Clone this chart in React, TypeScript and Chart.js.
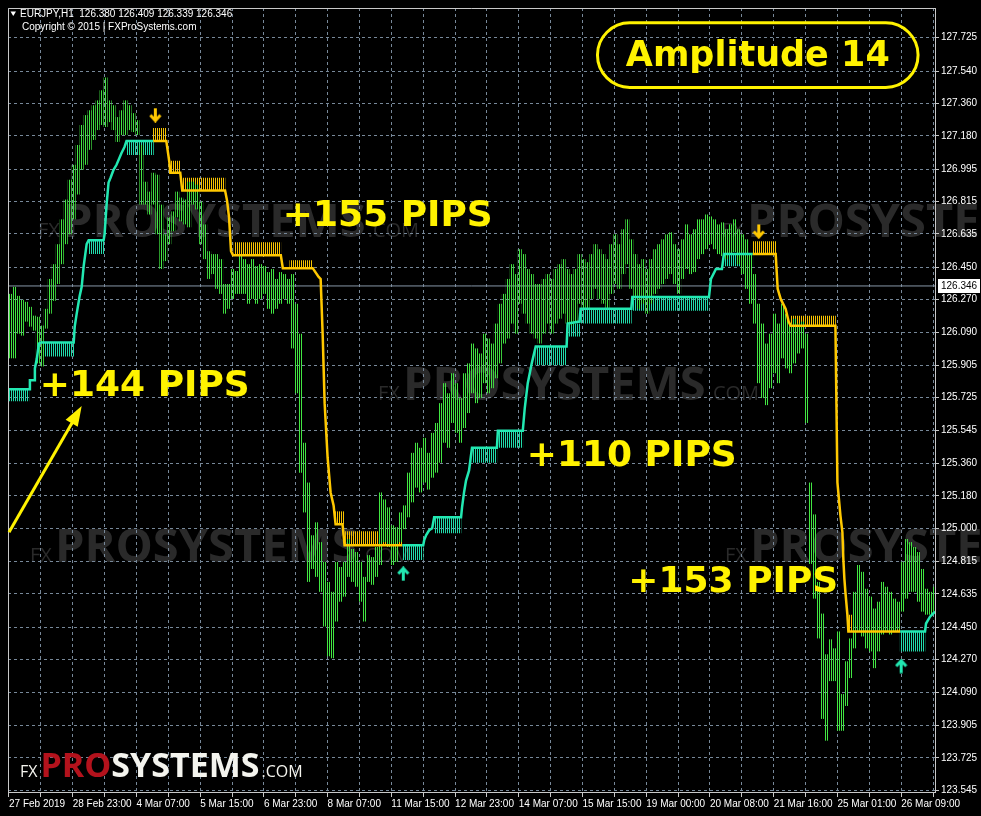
import { useEffect, useRef } from 'react';
import { Chart, registerables } from 'chart.js';

Chart.register(...registerables);

// ---------------- data ----------------
const symbolName = 'EURJPY,H1';
const headerOhlc = [126.38, 126.409, 126.339, 126.346];
const copyrightText = 'Copyright © 2015 | FXProSystems.com';
const currentPrice = 126.346;

const timeLabels = [
  '27 Feb 2019', '28 Feb 23:00', '4 Mar 07:00', '5 Mar 15:00', '6 Mar 23:00',
  '8 Mar 07:00', '11 Mar 15:00', '12 Mar 23:00', '14 Mar 07:00', '15 Mar 15:00',
  '19 Mar 00:00', '20 Mar 08:00', '21 Mar 16:00', '25 Mar 01:00', '26 Mar 09:00',
];
const barsPerLabel = 32;
const barsPerGrid = 16;
const lastBar = 465;

const priceTicks = [
  127.725, 127.54, 127.36, 127.18, 126.995, 126.815, 126.635, 126.45, 126.27, 126.09,
  125.905, 125.725, 125.545, 125.36, 125.18, 125.0, 124.815, 124.635, 124.45, 124.27,
  124.09, 123.905, 123.725, 123.545,
];
const priceMin = 123.535;
const priceMax = 127.89;

// price bars, one entry per pair of H1 bars
const barHigh = [
  126.302, 126.341, 126.291, 126.269, 126.258, 126.23, 126.181, 126.175, 126.126, 126.219,
  126.385, 126.467, 126.578, 126.716, 126.826, 126.936, 127.019, 127.129, 127.24, 127.295,
  127.322, 127.35, 127.377, 127.433, 127.504, 127.377, 127.35, 127.284, 127.322, 127.377,
  127.35, 127.306, 127.267, 127.129, 126.925, 126.87, 126.975, 126.964, 126.798, 126.633,
  126.727, 126.76, 126.87, 126.837, 126.826, 126.925, 126.925, 126.909, 126.815, 126.688,
  126.539, 126.523, 126.523, 126.495, 126.357, 126.357, 126.44, 126.429, 126.523, 126.495,
  126.467, 126.495, 126.456, 126.467, 126.456, 126.423, 126.44, 126.385, 126.423, 126.412,
  126.385, 126.412, 126.247, 126.081, 125.475, 125.254, 124.961, 125.033, 124.923, 124.813,
  124.702, 124.647, 124.813, 124.785, 124.813, 124.94, 124.885, 124.868, 124.813, 124.73,
  124.851, 124.84, 124.896, 125.199, 125.16, 125.116, 125.017, 125.006, 125.088, 125.127,
  125.309, 125.419, 125.475, 125.447, 125.502, 125.419, 125.53, 125.585, 125.695, 125.806,
  125.75, 125.861, 125.806, 125.723, 125.861, 125.916, 126.026, 125.999, 125.971, 126.081,
  126.054, 126.026, 126.137, 126.247, 126.302, 126.385, 126.467, 126.412, 126.55, 126.523,
  126.44, 126.412, 126.357, 126.357, 126.385, 126.412, 126.385, 126.44, 126.467, 126.495,
  126.44, 126.412, 126.44, 126.523, 126.495, 126.478, 126.523, 126.578, 126.55, 126.523,
  126.495, 126.578, 126.633, 126.578, 126.661, 126.716, 126.605, 126.523, 126.467, 126.495,
  126.44, 126.495, 126.55, 126.578, 126.605, 126.633, 126.644, 126.578, 126.55, 126.605,
  126.688, 126.633, 126.661, 126.716, 126.716, 126.743, 126.732, 126.716, 126.688, 126.699,
  126.661, 126.688, 126.716, 126.661, 126.633, 126.605, 126.523, 126.412, 126.247, 126.137,
  126.026, 126.081, 126.192, 126.137, 126.247, 126.192, 126.137, 126.164, 126.137, 126.148,
  126.081, 125.254, 125.077, 124.702, 124.526, 124.3, 124.383, 124.333, 124.427, 124.079,
  124.261, 124.388, 124.647, 124.796, 124.758, 124.664, 124.62, 124.554, 124.592, 124.702,
  124.675, 124.647, 124.609, 124.592, 124.813, 124.94, 124.923, 124.896, 124.868, 124.774,
  124.664, 124.647, 124.675,
];
const barLow = [
  125.944, 125.944, 126.081, 126.07, 126.148, 126.12, 126.098, 125.916, 125.899, 126.109,
  126.192, 126.263, 126.357, 126.467, 126.578, 126.633, 126.716, 126.854, 126.991, 127.019,
  127.102, 127.157, 127.212, 127.24, 127.229, 127.256, 127.212, 127.146, 127.184, 127.184,
  127.212, 127.201, 127.184, 126.798, 126.798, 126.743, 126.798, 126.633, 126.44, 126.484,
  126.578, 126.65, 126.727, 126.705, 126.688, 126.672, 126.798, 126.771, 126.578, 126.495,
  126.385, 126.412, 126.33, 126.302, 126.192, 126.219, 126.274, 126.302, 126.302, 126.302,
  126.247, 126.274, 126.247, 126.274, 126.302, 126.219, 126.192, 126.219, 126.247, 126.274,
  126.247, 125.999, 125.75, 125.309, 125.088, 124.702, 124.774, 124.73, 124.647, 124.454,
  124.289, 124.278, 124.482, 124.592, 124.62, 124.73, 124.702, 124.675, 124.592, 124.482,
  124.702, 124.686, 124.73, 124.796, 124.923, 124.896, 124.796, 124.813, 124.923, 124.995,
  125.061, 125.144, 125.226, 125.199, 125.254, 125.215, 125.281, 125.309, 125.364, 125.475,
  125.447, 125.585, 125.53, 125.475, 125.557, 125.64, 125.75, 125.695, 125.723, 125.806,
  125.75, 125.778, 125.833, 125.916, 126.026, 126.054, 126.137, 126.081, 126.247, 126.192,
  126.137, 126.081, 126.054, 126.026, 126.081, 126.137, 126.081, 126.137, 126.164, 126.192,
  126.137, 126.126, 126.148, 126.247, 126.219, 126.219, 126.274, 126.33, 126.274, 126.247,
  126.219, 126.302, 126.357, 126.33, 126.412, 126.467, 126.33, 126.274, 126.219, 126.247,
  126.192, 126.247, 126.302, 126.33, 126.357, 126.385, 126.412, 126.357, 126.302, 126.385,
  126.44, 126.412, 126.423, 126.495, 126.523, 126.55, 126.578, 126.55, 126.523, 126.512,
  126.495, 126.523, 126.534, 126.467, 126.412, 126.33, 126.247, 126.137, 125.806, 125.723,
  125.684, 125.778, 125.861, 125.806, 125.944, 125.888, 125.861, 125.916, 125.971, 125.999,
  125.585, 124.802, 124.609, 124.388, 123.941, 123.82, 124.151, 124.151, 123.875, 123.875,
  124.013, 124.168, 124.333, 124.427, 124.399, 124.333, 124.316, 124.223, 124.316, 124.41,
  124.427, 124.41, 124.427, 124.438, 124.537, 124.609, 124.647, 124.647, 124.592, 124.537,
  124.52, 124.52, 124.537,
];

// Amplitude indicator line (bar index, price)
const trendX = [
  -0.5, 10.5, 10.5, 13, 13, 14, 15, 16, 32.5, 33, 34, 35.5, 36.5, 37.5, 39, 40, 47.5, 48, 49, 50,
  51, 52.5, 54, 56.5, 58, 59, 72.5, 79, 80, 80.5, 81, 86, 87, 108.5, 109.5, 110.5, 111.5, 112.5,
  136.5, 137.5, 152.5, 155.5, 156.5, 157.5, 158.5, 160, 161.5, 163, 164, 167.5, 168.5, 197.5, 208,
  208.5, 209.5, 211, 212.5, 213.5, 227, 227.5, 228.5, 229.5, 231, 232.5, 245, 245.5, 258, 259,
  260.5, 262.5, 264.5, 280, 280.5, 286.5, 287, 312.5, 313, 351.5, 352.5, 355, 358, 359, 373.5, 385,
  386, 387.5, 390, 391.5, 392.5, 415, 416, 417.5, 418.5, 419, 419.5, 420, 421, 421.5, 447.5, 460,
  460.5, 462.5, 465,
];
const trendY = [
  125.772, 125.772, 125.822, 125.822, 125.888, 125.944, 126.026, 126.032, 126.032, 126.12,
  126.192, 126.291, 126.341, 126.456, 126.578, 126.6, 126.6, 126.633, 126.798, 126.92, 126.947,
  126.991, 127.019, 127.085, 127.118, 127.151, 127.151, 127.151, 127.074, 127.036, 126.975,
  126.975, 126.876, 126.876, 126.82, 126.727, 126.539, 126.517, 126.517, 126.445, 126.445,
  126.396, 126.385, 126.081, 125.695, 125.392, 125.199, 125.127, 125.022, 125.022, 124.906,
  124.906, 124.906, 124.934, 124.962, 124.989, 125.0, 125.061, 125.061, 125.116, 125.199,
  125.265, 125.32, 125.447, 125.447, 125.541, 125.541, 125.668, 125.806, 125.916, 126.01,
  126.01, 126.137, 126.148, 126.219, 126.219, 126.285, 126.285, 126.385, 126.44, 126.44,
  126.523, 126.523, 126.523, 126.33, 126.274, 126.219, 126.148, 126.125, 126.125, 125.254,
  125.072, 124.978, 124.824, 124.719, 124.647, 124.52, 124.427, 124.427, 124.427, 124.471,
  124.509, 124.537,
];
// bar index where the trend flips (starts up)
const trendFlips = [72.5, 197.5, 373.5, 447.5];

// hatch blocks: [first bar, last bar, line price, far edge price]
const upHatch = [
  [0, 10, 125.772, 125.706], [16.5, 32.5, 126.032, 125.954], [40, 47.5, 126.6, 126.523],
  [59, 72.5, 127.151, 127.074], [197.5, 208, 124.906, 124.824], [214, 227, 125.061, 124.973],
  [232.5, 245, 125.447, 125.364], [245.5, 258, 125.541, 125.447], [264.5, 280, 126.01, 125.905],
  [280.5, 286.5, 126.137, 126.065], [287, 312.5, 126.219, 126.137], [313, 351.5, 126.285, 126.208],
  [359, 373.5, 126.523, 126.456], [447.5, 460, 124.427, 124.316],
];
const downHatch = [
  [72.5, 79, 127.151, 127.223], [81, 86, 126.975, 127.041], [87.5, 108.5, 126.876, 126.947],
  [113, 136.5, 126.517, 126.589], [141, 152.5, 126.445, 126.489], [164, 168, 125.022, 125.094],
  [169, 197.5, 124.906, 124.984], [373.5, 385, 126.523, 126.594], [392.5, 415, 126.125, 126.181],
  [421.5, 447.5, 124.427, 124.52],
];

const sellArrowX = [73.5, 376.5];
const sellArrowY = [127.295, 126.649];
const buyArrowX = [198, 448];
const buyArrowY = [124.747, 124.234];

const pipsLabels = ['+144 PIPS', '+155 PIPS', '+110 PIPS', '+153 PIPS'];
const pipsX = [15.5, 137.5, 260, 311];
const pipsY = [125.734, 126.677, 125.348, 124.647];
const pointerFrom = [0, 124.978];
const pointerTo = [36.5, 125.679];

const amplitudeText = 'Amplitude 14';
const amplitudeBox = [295.5, 456.5, 127.808, 127.449];

// ---------------- styles ----------------
const BAR_COLOR = '#42e642';
const UP_COLOR = '#22e8b2';
const DOWN_COLOR = '#ffc800';
const UP_HATCH = '#20dcaa';
const DOWN_HATCH = '#f8c400';
const TEXT_YELLOW = '#fff200';
const GRID = '#778899';
const FRAME = '#c8c8c8';
const WATERMARK = '#2a2a2a';

function hasFont(name: string) {
  const c = document.createElement('canvas').getContext('2d')!;
  const s = '28 Feb 23:00 127.725 Wj';
  c.font = '20px monospace';
  const a = c.measureText(s).width;
  c.font = `20px '${name}', monospace`;
  const b = c.measureText(s).width;
  return Math.abs(a - b) > 0.5;
}

function hatchPattern(color: string) {
  const c = document.createElement('canvas');
  c.width = 2;
  c.height = 1;
  const g = c.getContext('2d')!;
  g.fillStyle = color;
  g.fillRect(1, 0, 1, 1);
  return g.createPattern(c, 'repeat')!;
}

function arrowImage(color: string, up: boolean) {
  const c = document.createElement('canvas');
  c.width = 13;
  c.height = 15;
  const g = c.getContext('2d')!;
  g.translate(6.5, 7.5);
  if (up) g.scale(1, -1);
  g.strokeStyle = color;
  g.lineWidth = 3;
  g.lineJoin = 'miter';
  g.beginPath();
  g.moveTo(0, -7);
  g.lineTo(0, 5);
  g.stroke();
  g.beginPath();
  g.moveTo(-5, 0);
  g.lineTo(0, 5.5);
  g.lineTo(5, 0);
  g.stroke();
  return c;
}

function drawBrand(ctx: CanvasRenderingContext2D, x: number, base: number, fx: number, big: number, com: number, fxCol: string, proCol: string, sysCol: string) {
  ctx.textAlign = 'left';
  ctx.textBaseline = 'alphabetic';
  ctx.font = `${fx}px 'Open Sans'`;
  ctx.fillStyle = fxCol;
  ctx.fillText('FX', x, base);
  let cx = x + ctx.measureText('FX').width + 3;
  ctx.font = `bold ${big}px 'Open Sans'`;
  ctx.fillStyle = proCol;
  ctx.fillText('PRO', cx, base);
  cx += ctx.measureText('PRO').width;
  ctx.fillStyle = sysCol;
  ctx.fillText('SYSTEMS', cx, base);
  cx += ctx.measureText('SYSTEMS').width + 2;
  ctx.font = `${com}px 'Open Sans'`;
  ctx.fillStyle = fxCol;
  ctx.fillText('.COM', cx, base);
}

export default function App() {
  const ref = useRef<HTMLCanvasElement>(null);

  useEffect(() => {
    document.body.style.margin = '0';
    document.body.style.background = '#000';
    const canvas = ref.current!;
    const narrow = hasFont('Liberation Sans Narrow');
    const axisFont = narrow
      ? { family: "'Liberation Sans Narrow', 'Liberation Sans', sans-serif", size: 11 }
      : { family: "'Liberation Sans', sans-serif", size: 10 };
    const axisFontStr = `${axisFont.size}px ${axisFont.family}`;

    const trendColor = (x: number) => {
      let n = 0;
      for (const f of trendFlips) if (x >= f) n++;
      return n % 2 === 0 ? UP_COLOR : DOWN_COLOR;
    };

    const upPat = hatchPattern(UP_HATCH);
    const downPat = hatchPattern(DOWN_HATCH);
    const hatchSet = (b: number[], pat: CanvasPattern) => ({
      type: 'line',
      data: [{ x: b[0] - 0.25, y: b[3] }, { x: b[1] + 0.25, y: b[3] }],
      borderWidth: 0,
      borderColor: 'rgba(0,0,0,0)',
      pointRadius: 0,
      fill: { value: b[2] },
      backgroundColor: pat,
      order: 3,
    });

    const datasets: any[] = [
      {
        type: 'line',
        data: buyArrowX.map((x, i) => ({ x, y: buyArrowY[i] })),
        showLine: false,
        pointStyle: arrowImage(UP_COLOR, true),
        pointRadius: 7,
        order: 0,
      },
      {
        type: 'line',
        data: sellArrowX.map((x, i) => ({ x, y: sellArrowY[i] })),
        showLine: false,
        pointStyle: arrowImage(DOWN_COLOR, false),
        pointRadius: 7,
        order: 0,
      },
      {
        type: 'line',
        data: trendX.map((x, i) => ({ x, y: trendY[i] })),
        borderWidth: 2.5,
        borderColor: UP_COLOR,
        pointRadius: 0,
        fill: false,
        tension: 0,
        segment: { borderColor: (c: any) => trendColor(trendX[c.p0DataIndex]) },
        order: 1,
      },
      {
        type: 'bar',
        data: barHigh.map((h, i) => ({ x: i * 2 + 0.5, y: [barLow[i], h] })),
        backgroundColor: hatchPattern(BAR_COLOR),
        barThickness: 4,
        borderWidth: 0,
        inflateAmount: 0,
        order: 2,
      },
      ...upHatch.map((b) => hatchSet(b, upPat)),
      ...downHatch.map((b) => hatchSet(b, downPat)),
      {
        type: 'line',
        data: [{ x: -0.5, y: currentPrice }, { x: lastBar, y: currentPrice }],
        borderColor: '#8797a8',
        borderWidth: 1,
        pointRadius: 0,
        order: 4,
      },
    ];

    const overlay = {
      id: 'overlay',
      beforeDraw(chart: any) {
        const ctx = chart.ctx as CanvasRenderingContext2D;
        ctx.save();
        const spots = [[38, 237], [722, 237], [378, 400], [30, 562], [725, 562]];
        for (const [x, y] of spots) drawBrand(ctx, x, y, 20, 47, 20, WATERMARK, WATERMARK, WATERMARK);
        ctx.restore();
      },
      afterDatasetsDraw(chart: any) {
        const ctx = chart.ctx as CanvasRenderingContext2D;
        const a = chart.chartArea;
        const xs = chart.scales.x;
        const ys = chart.scales.y;
        ctx.save();
        // frame (left/top)
        ctx.strokeStyle = FRAME;
        ctx.lineWidth = 1;
        ctx.beginPath();
        ctx.moveTo(a.left + 0.5, a.bottom);
        ctx.lineTo(a.left + 0.5, a.top + 0.5);
        ctx.lineTo(a.right, a.top + 0.5);
        ctx.stroke();

        // pips labels
        ctx.font = "bold 36px 'DejaVu Sans'";
        ctx.fillStyle = TEXT_YELLOW;
        ctx.textAlign = 'left';
        ctx.textBaseline = 'alphabetic';
        pipsLabels.forEach((t, i) => ctx.fillText(t, xs.getPixelForValue(pipsX[i]), ys.getPixelForValue(pipsY[i])));

        // pointer arrow
        const x0 = xs.getPixelForValue(pointerFrom[0]);
        const y0 = ys.getPixelForValue(pointerFrom[1]);
        const x1 = xs.getPixelForValue(pointerTo[0]);
        const y1 = ys.getPixelForValue(pointerTo[1]);
        const ang = Math.atan2(y1 - y0, x1 - x0);
        const hl = 20;
        const hw = 7;
        ctx.strokeStyle = TEXT_YELLOW;
        ctx.lineWidth = 3;
        ctx.beginPath();
        ctx.moveTo(x0, y0);
        ctx.lineTo(x1 - Math.cos(ang) * (hl - 2), y1 - Math.sin(ang) * (hl - 2));
        ctx.stroke();
        ctx.beginPath();
        ctx.moveTo(x1, y1);
        ctx.lineTo(x1 - Math.cos(ang) * hl - Math.sin(ang) * hw, y1 - Math.sin(ang) * hl + Math.cos(ang) * hw);
        ctx.lineTo(x1 - Math.cos(ang) * hl + Math.sin(ang) * hw, y1 - Math.sin(ang) * hl - Math.cos(ang) * hw);
        ctx.closePath();
        ctx.fillStyle = TEXT_YELLOW;
        ctx.fill();

        // amplitude box
        const bx0 = xs.getPixelForValue(amplitudeBox[0]);
        const bx1 = xs.getPixelForValue(amplitudeBox[1]);
        const by0 = ys.getPixelForValue(amplitudeBox[2]);
        const by1 = ys.getPixelForValue(amplitudeBox[3]);
        ctx.strokeStyle = TEXT_YELLOW;
        ctx.lineWidth = 3;
        ctx.beginPath();
        (ctx as any).roundRect(bx0, by0, bx1 - bx0, by1 - by0, (by1 - by0) / 2);
        ctx.stroke();
        ctx.font = "bold 35px 'DejaVu Sans'";
        ctx.textAlign = 'center';
        ctx.fillStyle = TEXT_YELLOW;
        ctx.fillText(amplitudeText, (bx0 + bx1) / 2, (by0 + by1) / 2 + 11);

        // current price tag
        const py = Math.round(ys.getPixelForValue(currentPrice));
        ctx.fillStyle = '#ffffff';
        ctx.fillRect(a.right + 3, py - 7, 42, 14);
        ctx.fillStyle = '#000000';
        ctx.font = axisFontStr;
        ctx.textAlign = 'left';
        ctx.textBaseline = 'middle';
        ctx.fillText(currentPrice.toFixed(3), a.right + 6, py + 0.5);

        // header
        ctx.fillStyle = '#ffffff';
        ctx.beginPath();
        ctx.moveTo(10.5, 11.5);
        ctx.lineTo(16, 11.5);
        ctx.lineTo(13.25, 16);
        ctx.closePath();
        ctx.fill();
        ctx.textBaseline = 'alphabetic';
        ctx.fillText(`${symbolName}  ${headerOhlc.map((v) => v.toFixed(3)).join(' ')}`, 20, 17);
        ctx.fillText(copyrightText, 22, 30);

        // logo
        drawBrand(ctx, 20, 777, 16, 34, 16, '#f4f4ee', '#b3121c', '#f4f4ee');
        ctx.restore();
      },
    };

    const chart = new Chart(canvas, {
      type: 'bar',
      data: { datasets },
      options: {
        responsive: false,
        animation: false,
        events: [],
        layout: { padding: { left: 4, top: 2, right: 0, bottom: 0 } },
        plugins: { legend: { display: false }, tooltip: { enabled: false } },
        scales: {
          x: {
            type: 'linear',
            min: -0.5,
            max: lastBar,
            offset: false,
            afterBuildTicks: (s: any) => {
              const t = [];
              for (let v = 0; v < lastBar; v += barsPerGrid) t.push({ value: v });
              s.ticks = t;
            },
            afterFit: (s: any) => {
              s.height = 24;
              s.paddingLeft = 0;
              s.paddingRight = 0;
            },
            grid: { color: GRID, offset: false, tickLength: 5, tickColor: FRAME, tickBorderDash: [] },
            border: { display: true, color: FRAME, width: 1, dash: [3, 3] },
            ticks: {
              autoSkip: false,
              maxRotation: 0,
              minRotation: 0,
              align: 'start',
              padding: 1,
              color: '#ffffff',
              font: axisFont,
              callback: (v: any) => (Number(v) % barsPerLabel === 0 ? timeLabels[Number(v) / barsPerLabel] ?? '' : ''),
            },
          },
          y: {
            type: 'linear',
            position: 'right',
            min: priceMin,
            max: priceMax,
            afterBuildTicks: (s: any) => {
              s.ticks = [...priceTicks].sort((p, q) => p - q).map((v) => ({ value: v }));
            },
            afterFit: (s: any) => {
              s.width = 46;
              s.paddingTop = 0;
              s.paddingBottom = 0;
            },
            grid: { color: GRID, tickLength: 4, tickColor: FRAME, tickBorderDash: [] },
            border: { display: true, color: FRAME, width: 1, dash: [3, 3] },
            ticks: {
              padding: 2,
              color: '#ffffff',
              font: axisFont,
              callback: (v: any) => Number(v).toFixed(3),
            },
          },
        },
      } as any,
      plugins: [overlay],
    } as any);

    return () => chart.destroy();
  }, []);

  return (
    <div style={{ position: 'absolute', left: 0, top: 0, width: 981, height: 816, background: '#000' }}>
      <canvas ref={ref} width={981} height={816} style={{ display: 'block', width: 981, height: 816 }} />
    </div>
  );
}
